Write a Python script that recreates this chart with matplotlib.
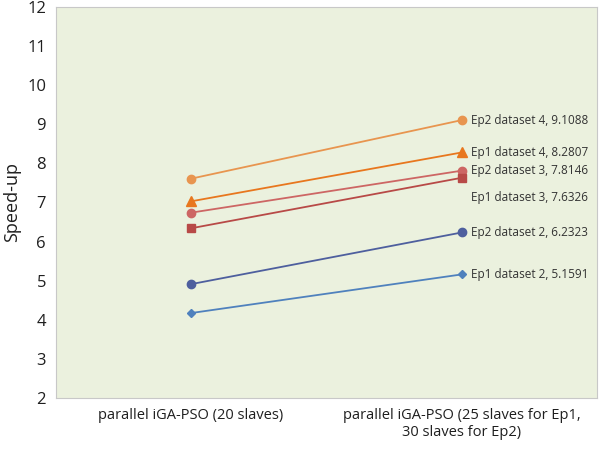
import matplotlib.pyplot as plt

categories = ["parallel iGA-PSO (20 slaves)", "parallel iGA-PSO (25 slaves for Ep1,\n30 slaves for Ep2)"]
series_names = ["Ep2 dataset 4", "Ep1 dataset 4", "Ep2 dataset 3", "Ep1 dataset 3", "Ep2 dataset 2", "Ep1 dataset 2"]
before = [7.61, 7.03, 6.74, 6.34, 4.91, 4.17]
after = [9.1088, 8.2807, 7.8146, 7.6326, 6.2323, 5.1591]
label_text = ["9.1088", "8.2807", "7.8146", "7.6326", "6.2323", "5.1591"]

colors = ["#E8954F", "#E8771E", "#CD6664", "#B84A47", "#4E5F9E", "#4F81BD"]
markers = ["o", "^", "o", "s", "o", "D"]
msizes = [6, 6.5, 6, 6, 6, 4.5]
label_dy = [0, 0, 0, -14, 0, 0]

plt.rcParams["font.family"] = ["Open Sans", "DejaVu Sans"]

fig = plt.figure(figsize=(6, 4.49), dpi=100)
ax = fig.add_axes([0.093, 0.114, 0.902, 0.87])
ax.set_facecolor("#EBF1DE")

for i, name in enumerate(series_names):
    ax.plot([0, 1], [before[i], after[i]], color=colors[i], lw=1.3,
            marker=markers[i], markersize=msizes[i])
    ax.annotate(f"{name}, {label_text[i]}", (1, after[i]),
                xytext=(7, label_dy[i]), textcoords="offset points",
                va="center", ha="left", fontsize=8.5, color="#333333")

ax.set_xlim(-0.5, 1.5)
ax.set_ylim(2, 12)
ax.set_yticks(range(2, 13))
ax.set_xticks([0, 1], labels=categories)
ax.tick_params(length=0, labelsize=12, colors="#1F1F1F", pad=7)
ax.tick_params(axis="x", labelsize=10.5)
ax.set_ylabel("Speed-up", fontsize=13, color="#1F1F1F")
for s in ax.spines.values():
    s.set_color("#C8C8C8")

fig.savefig("out.png", dpi=100)
